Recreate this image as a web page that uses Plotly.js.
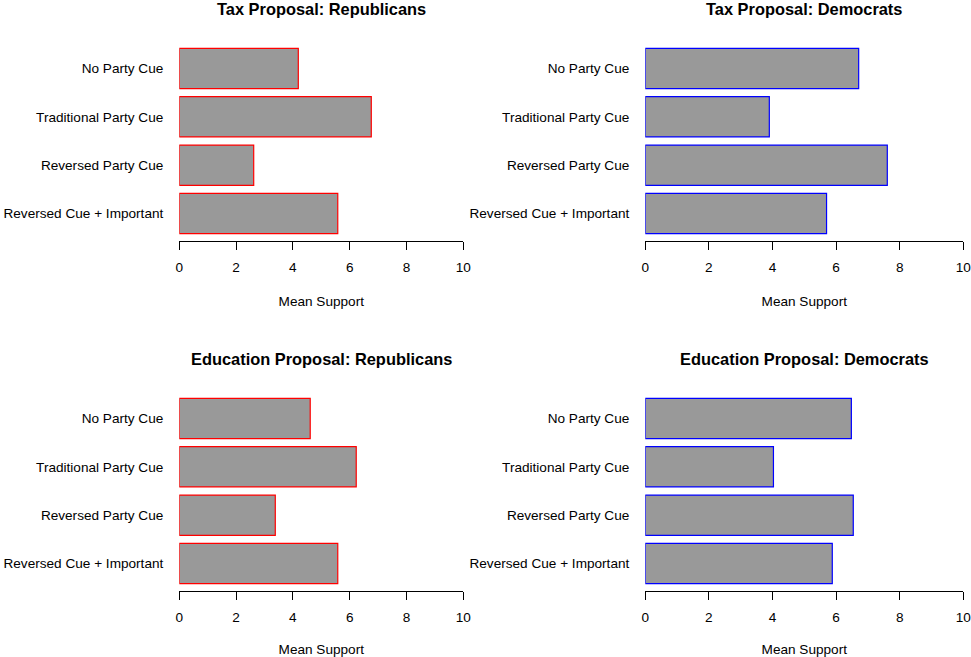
<!DOCTYPE html>
<html>
<head>
<meta charset="utf-8">
<script src="https://cdn.plot.ly/plotly-3.0.1.min.js"></script>
<style>
  html, body { margin: 0; padding: 0; background: #fff; }
  #chart { width: 971px; height: 657px; }
</style>
</head>
<body>
<div id="chart"></div>
<script>
// cue conditions, top to bottom
const cues = ['No Party Cue', 'Traditional Party Cue', 'Reversed Party Cue', 'Reversed Cue + Important'];

// mean support (0-10)
const taxRepublicans = [4.19, 6.76, 2.62, 5.58];
const taxDemocrats = [6.71, 3.90, 7.61, 5.70];
const eduRepublicans = [4.61, 6.23, 3.38, 5.58];
const eduDemocrats = [6.48, 4.03, 6.54, 5.88];

const panelTitles = [
  'Tax Proposal: Republicans', 'Tax Proposal: Democrats',
  'Education Proposal: Republicans', 'Education Proposal: Democrats'
];
const xTicks = [0, 2, 4, 6, 8, 10];

const FONT = 'Liberation Sans, Arial, Helvetica, sans-serif';
const W = 971, H = 657;
const LABEL_SIZE = 13.6;

// plot regions in pixels (left, right) / (top, bottom)
const colPx = [[179.3, 463.3], [645.3, 963.3]];
const rowPx = [[41, 241], [391, 591]];

const panels = [
  { vals: taxRepublicans, edge: '#ff0000', col: 0, row: 0 },
  { vals: taxDemocrats, edge: '#0000ff', col: 1, row: 0 },
  { vals: eduRepublicans, edge: '#ff0000', col: 0, row: 1 },
  { vals: eduDemocrats, edge: '#0000ff', col: 1, row: 1 }
];

const data = [];
const layout = {
  width: W, height: H,
  margin: { l: 0, r: 0, t: 0, b: 0 },
  paper_bgcolor: '#fff', plot_bgcolor: '#fff',
  showlegend: false,
  bargap: 1 / 6,
  font: { family: FONT, size: LABEL_SIZE, color: '#000' },
  annotations: []
};

panels.forEach((p, i) => {
  const n = i === 0 ? '' : String(i + 1);
  data.push({
    type: 'bar',
    orientation: 'h',
    x: p.vals,
    y: cues,
    xaxis: 'x' + n,
    yaxis: 'y' + n,
    marker: { color: '#999999', line: { color: p.edge, width: 1.2 } },
    hoverinfo: 'x+y'
  });

  const [l, r] = colPx[p.col];
  const [t, b] = rowPx[p.row];

  layout['xaxis' + n] = {
    domain: [l / W, r / W],
    anchor: 'y' + n,
    range: [0, 10],
    tickvals: xTicks,
    ticks: 'outside', ticklen: 8, tickwidth: 1, tickcolor: '#000',
    showline: true, linecolor: '#000', linewidth: 1,
    showgrid: false, zeroline: false,
    ticklabelstandoff: 6,
    ticklabeloverflow: 'allow',
    tickfont: { family: FONT, size: LABEL_SIZE },
    title: { text: 'Mean Support', font: { family: FONT, size: LABEL_SIZE }, standoff: 22 }
  };
  layout['yaxis' + n] = {
    domain: [1 - b / H, 1 - t / H],
    anchor: 'x' + n,
    type: 'category',
    categoryorder: 'array',
    categoryarray: cues,
    range: [3.57, -0.57],
    ticks: '', showline: false, showgrid: false, zeroline: false,
    ticklabelstandoff: 15,
    tickfont: { family: FONT, size: LABEL_SIZE }
  };

  layout.annotations.push({
    text: '<b>' + panelTitles[i] + '</b>',
    xref: 'paper', yref: 'paper',
    x: (l + r) / 2 / W, y: 1 - (t - 32.5) / H,
    xanchor: 'center', yanchor: 'middle',
    showarrow: false,
    font: { family: FONT, size: 16.4, color: '#000' }
  });
});

Plotly.newPlot('chart', data, layout, { displayModeBar: false, staticPlot: true });
</script>
</body>
</html>
